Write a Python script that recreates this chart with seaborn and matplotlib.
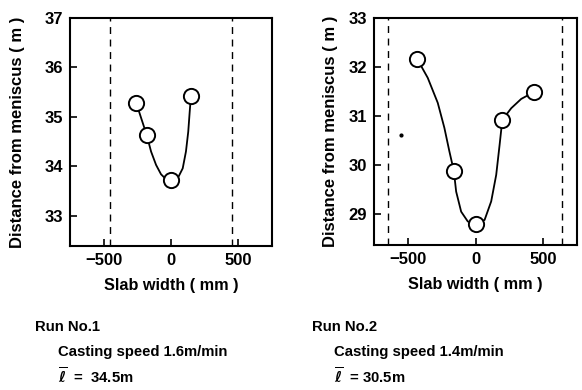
import numpy as np
import pandas as pd
import matplotlib.pyplot as plt
import seaborn as sns

# Run No.1 - measured points
run1_x = [-259, -180, 0, 148]
run1_y = [35.29, 34.63, 33.72, 35.42]
# Run No.1 - smooth curve
curve1_x = [-259, -222, -180, -148, -111, -74, -37, 0, 50, 87, 111, 128, 139, 148]
curve1_y = [35.29, 34.98, 34.63, 34.30, 34.03, 33.84, 33.74, 33.72, 33.76, 33.96, 34.30, 34.70, 35.11, 35.42]

# Run No.2 - measured points
run2_x = [-432, -160, 0, 198, 432]
run2_y = [32.17, 29.88, 28.80, 30.92, 31.49]
# Run No.2 - smooth curve
curve2_x = [-432, -353, -279, -230, -193, -160, -143, -106, -57, 0, 67, 116, 153, 178, 198, 264, 338, 432]
curve2_y = [32.17, 31.78, 31.27, 30.76, 30.28, 29.88, 29.46, 29.05, 28.85, 28.80, 28.88, 29.26, 29.80, 30.41, 30.92, 31.16, 31.35, 31.49]

# slab edges (dashed lines)
edges1 = [-455, 452]
edges2 = [-644, 637]

ylims = [(32.39, 37.0), (28.37, 33.0)]
yticks = [[33, 34, 35, 36, 37], [29, 30, 31, 32, 33]]
xticks = [-500, 0, 500]

run_labels = ["Run No.1", "Run No.2"]
speed_labels = ["Casting speed 1.6m/min", "Casting speed 1.4m/min"]
mean_labels = [r"$\overline{\ell}$  =  34.5m", r"$\overline{\ell}$  = 30.5m"]

sns.set_style("ticks")
plt.rcParams['font.family'] = ['Liberation Sans', 'DejaVu Sans']
plt.rcParams['font.weight'] = 'bold'
plt.rcParams['mathtext.fontset'] = 'dejavusans'
# plain black text like the printed figure
plt.rcParams['text.color'] = 'black'
plt.rcParams['axes.labelcolor'] = 'black'
plt.rcParams['xtick.color'] = 'black'
plt.rcParams['ytick.color'] = 'black'

fig = plt.figure(figsize=(5.82, 3.9), dpi=100)
ax1 = fig.add_axes([70 / 582, 144 / 390, 202 / 582, 228 / 390])
ax2 = fig.add_axes([374 / 582, 145 / 390, 203 / 582, 227 / 390])

panels = [
    (ax1, run1_x, run1_y, curve1_x, curve1_y, edges1, -0.222),
    (ax2, run2_x, run2_y, curve2_x, curve2_y, edges2, -0.178),
]

for i, (ax, px, py, cx, cy, edges, ylab_x) in enumerate(panels):
    curve = pd.DataFrame({'x': cx, 'y': cy})
    pts = pd.DataFrame({'x': px, 'y': py})
    sns.lineplot(data=curve, x='x', y='y', ax=ax, color='black', linewidth=1.3,
                 sort=False, estimator=None)
    sns.scatterplot(data=pts, x='x', y='y', ax=ax, s=120, facecolor='white',
                    edgecolor='black', linewidth=1.4, zorder=5)
    for e in edges:
        ax.axvline(e, color='black', linestyle=(0, (5, 4)), linewidth=1.0)
    ax.set_xlim(-750, 750)
    ax.set_ylim(*ylims[i])
    ax.set_xticks(xticks)
    ax.set_yticks(yticks[i])
    ax.set_xticklabels(['\u2212500', '0', '500'])
    ax.tick_params(direction='in', length=5, width=1.2, labelsize=12, pad=5,
                   colors='black')
    for lab in ax.get_xticklabels() + ax.get_yticklabels():
        lab.set_fontweight('bold')
    for sp in ax.spines.values():
        sp.set_linewidth(1.5)
        sp.set_color('black')
    ax.set_xlabel("Slab width ( mm )", fontsize=11.7, fontweight='bold', labelpad=7)
    ax.set_ylabel("Distance from meniscus ( m )", fontsize=12, fontweight='bold')
    ax.yaxis.set_label_coords(ylab_x, 0.5)

# stray speck in the right panel
ax2.scatter([-550], [30.62], s=4, color='black')

fs = 10.7
fig.text(35 / 582, 1 - 327 / 390, run_labels[0], fontsize=fs, fontweight='bold', va='center')
fig.text(58 / 582, 1 - 352 / 390, speed_labels[0], fontsize=fs, fontweight='bold', va='center')
fig.text(58 / 582, 1 - 377 / 390, mean_labels[0], fontsize=fs, fontweight='bold', va='center')
fig.text(312 / 582, 1 - 327 / 390, run_labels[1], fontsize=fs, fontweight='bold', va='center')
fig.text(334 / 582, 1 - 352 / 390, speed_labels[1], fontsize=fs, fontweight='bold', va='center')
fig.text(334 / 582, 1 - 377 / 390, mean_labels[1], fontsize=fs, fontweight='bold', va='center')

plt.savefig("out.png", dpi=100)
